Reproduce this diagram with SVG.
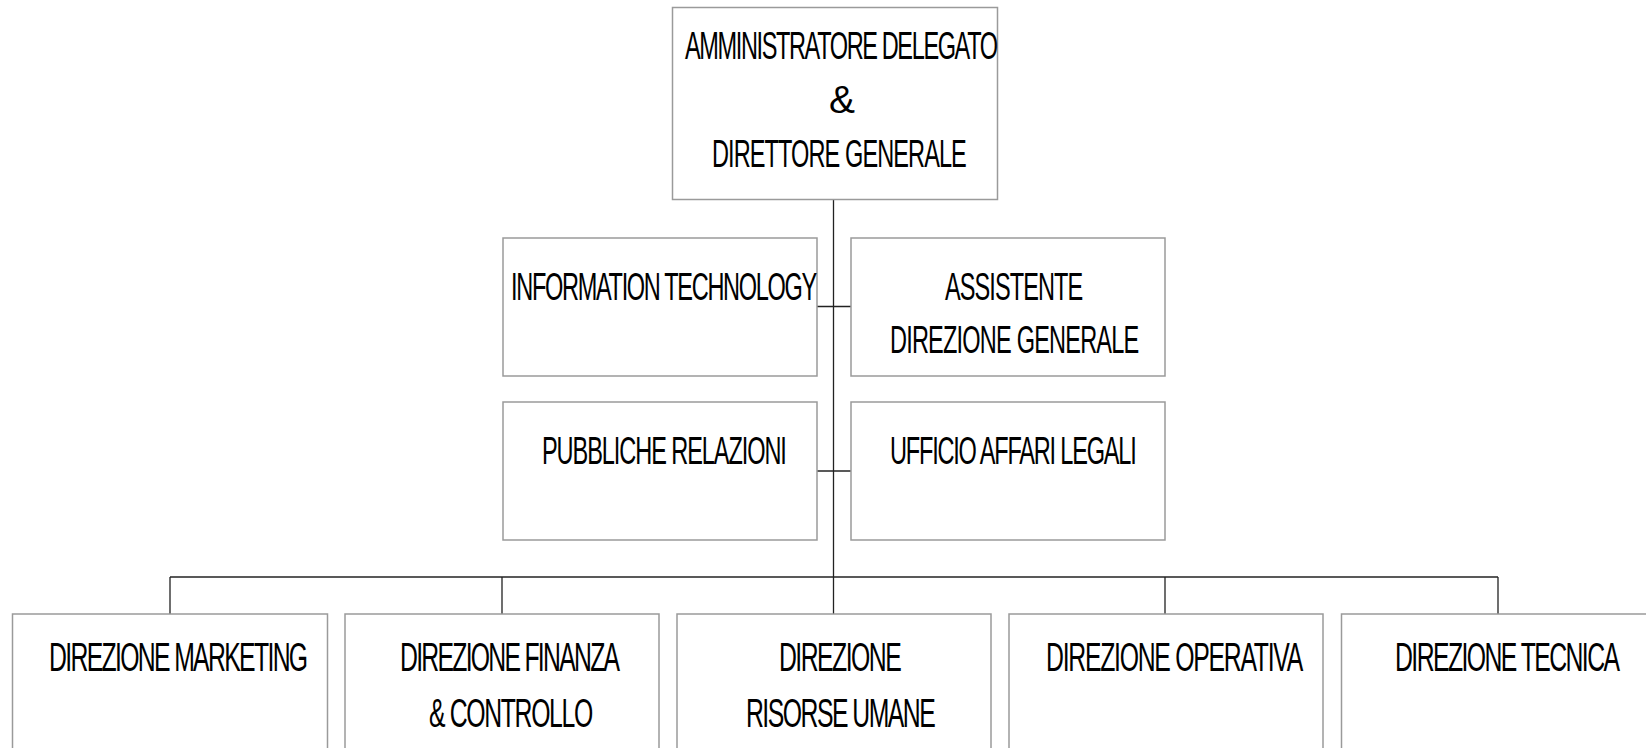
<svg xmlns="http://www.w3.org/2000/svg" width="1646" height="748" viewBox="0 0 1646 748">
<style>
.box{fill:#fff;stroke:#9a9a9a;stroke-width:1.5}
.t{font-family:"Liberation Sans",Arial,sans-serif;font-size:38px;fill:#000}
.tb{font-family:"Liberation Sans",Arial,sans-serif;font-size:40px;fill:#000}
.c{stroke:#222;stroke-width:1.3;fill:none}
</style>
<rect width="1646" height="748" fill="#fff"/>
<g id="connectors">
<path class="c" d="M833.5 199 V577"/>
<path class="c" d="M817 306.5 H851"/>
<path class="c" d="M817 471 H851"/>
<path class="c" d="M170 577 H1498"/>
<path class="c" d="M170 577 V614 M502 577 V614 M833.5 577 V614 M1165 577 V614 M1498 577 V614"/>
</g>
<g id="ad">
<rect class="box" x="672.5" y="7.5" width="325" height="192"/>
<text class="t" transform="translate(685 59) scale(0.62 1)" textLength="505" lengthAdjust="spacing">AMMINISTRATORE DELEGATO</text>
<text class="t" x="829" y="113" textLength="26" lengthAdjust="spacingAndGlyphs">&amp;</text>
<text class="t" transform="translate(712 167) scale(0.62 1)" textLength="411" lengthAdjust="spacing">DIRETTORE GENERALE</text>
</g>
<g id="it">
<rect class="box" x="503" y="238" width="314" height="138"/>
<text class="t" transform="translate(511 300) scale(0.62 1)" textLength="494" lengthAdjust="spacing">INFORMATION TECHNOLOGY</text>
</g>
<g id="assistente">
<rect class="box" x="851" y="238" width="314" height="138"/>
<text class="t" transform="translate(945 300) scale(0.62 1)" textLength="223" lengthAdjust="spacing">ASSISTENTE</text>
<text class="t" transform="translate(890 353) scale(0.62 1)" textLength="402" lengthAdjust="spacing">DIREZIONE GENERALE</text>
</g>
<g id="pr">
<rect class="box" x="503" y="402" width="314" height="138"/>
<text class="t" transform="translate(542 464) scale(0.62 1)" textLength="395" lengthAdjust="spacing">PUBBLICHE RELAZIONI</text>
</g>
<g id="legali">
<rect class="box" x="851" y="402" width="314" height="138"/>
<text class="t" transform="translate(890 464) scale(0.62 1)" textLength="398" lengthAdjust="spacing">UFFICIO AFFARI LEGALI</text>
</g>
<g id="marketing">
<rect class="box" x="12.5" y="614" width="315" height="160"/>
<text class="tb" transform="translate(49 671) scale(0.62 1)" textLength="418" lengthAdjust="spacing">DIREZIONE MARKETING</text>
</g>
<g id="finanza">
<rect class="box" x="345" y="614" width="314" height="160"/>
<text class="tb" transform="translate(400 671) scale(0.62 1)" textLength="355" lengthAdjust="spacing">DIREZIONE FINANZA</text>
<text class="tb" transform="translate(429 727) scale(0.62 1)" textLength="265" lengthAdjust="spacing">&amp; CONTROLLO</text>
</g>
<g id="risorse">
<rect class="box" x="677" y="614" width="314" height="160"/>
<text class="tb" transform="translate(779 671) scale(0.62 1)" textLength="198" lengthAdjust="spacing">DIREZIONE</text>
<text class="tb" transform="translate(746 727) scale(0.62 1)" textLength="306" lengthAdjust="spacing">RISORSE UMANE</text>
</g>
<g id="operativa">
<rect class="box" x="1009" y="614" width="314" height="160"/>
<text class="tb" transform="translate(1046 671) scale(0.62 1)" textLength="415" lengthAdjust="spacing">DIREZIONE OPERATIVA</text>
</g>
<g id="tecnica">
<rect class="box" x="1341.5" y="614" width="315" height="160"/>
<text class="tb" transform="translate(1395 671) scale(0.62 1)" textLength="363" lengthAdjust="spacing">DIREZIONE TECNICA</text>
</g>
</svg>
